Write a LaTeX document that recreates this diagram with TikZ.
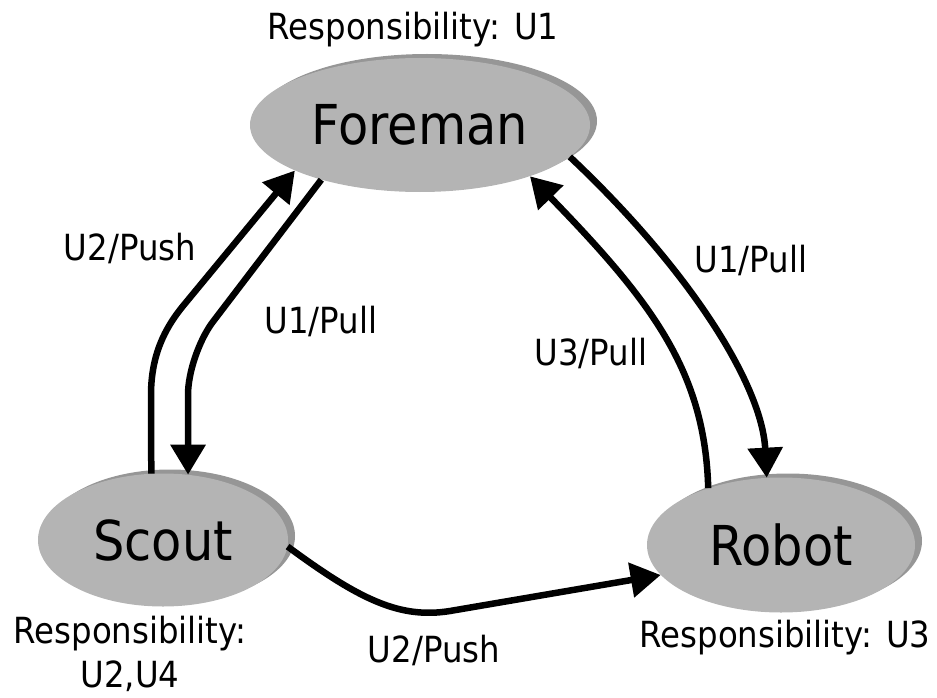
\documentclass[tikz,border=0pt]{standalone}
\usepackage{fontspec}
\setmainfont{DejaVu Sans}[FakeStretch=0.9]
\usetikzlibrary{shapes.geometric,arrows.meta,shadows}
\definecolor{nodegray}{RGB}{180,180,180}
\definecolor{shadegray}{RGB}{150,150,150}
\begin{document}
\begin{tikzpicture}[x=1pt,y=-1pt,
  state/.style={ellipse, fill=nodegray, inner sep=0pt, font=\fontsize{55}{60}\selectfont,
    drop shadow={shadow xshift=7pt, shadow yshift=4pt, fill=shadegray, opacity=1}},
  lbl/.style={inner sep=0pt, anchor=base, font=\fontsize{36}{44}\selectfont},
  arr/.style={line width=6.5pt, -{Triangle[length=30pt,width=34pt]}}]
\useasboundingbox (0,0) rectangle (937,698);
\node[state, minimum width=340pt, minimum height=134pt] (foreman) at (420,125) {Foreman};
\node[state, minimum width=250pt, minimum height=133pt] (scout) at (163,540) {Scout};
\node[state, minimum width=268pt, minimum height=135pt] (robot) at (781,545) {Robot};

\node[lbl] (rf) at (413,40) {Responsibility: U1};
\node[lbl, align=center] (rs) at (130,687) {Responsibility:\\U2,U4};
\node[lbl] (rr) at (785,647) {Responsibility: U3};
\node[lbl] (l1) at (130,260) {U2/Push};
\node[lbl] (l2) at (321,333) {U1/Pull};
\node[lbl] (l3) at (591,365) {U3/Pull};
\node[lbl] (l4) at (751,272) {U1/Pull};
\node[lbl] (l5) at (434,662) {U2/Push};

\draw[arr] (scout.100) -- (151,395) .. controls (151,355) and (165,328) .. (183,306) -- (foreman.200);
\draw[arr] (foreman.209) -- (212,323) .. controls (199,341) and (188,372) .. (188,395) -- (scout.69);
\draw[arr] (foreman.-12) .. controls (690,270) and (762,385) .. (robot.102);
\draw[arr] (robot.142) .. controls (705,370) and (650,300) .. (foreman.-25);
\draw[arr] (scout.-3) .. controls (360,600) and (400,619) .. (450,611) -- (robot.194);
\end{tikzpicture}
\end{document}
